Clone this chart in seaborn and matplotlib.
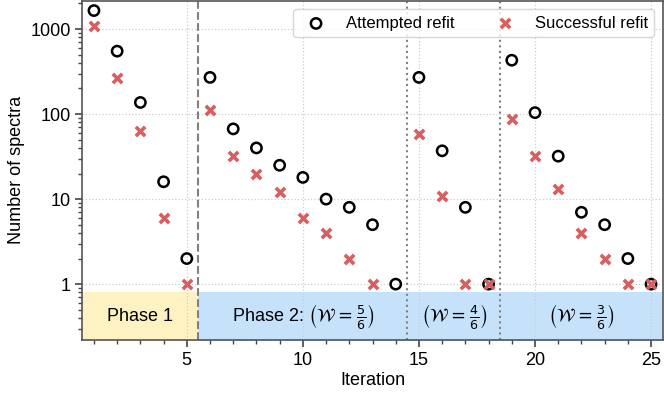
import numpy as np
import pandas as pd
import seaborn as sns
import matplotlib.pyplot as plt

# values
iterations = list(range(1, 26))
attempted = [1650, 550, 137, 16, 2, 270, 67, 40, 25, 18, 10, 8, 5, 1,
             270, 37, 8, 1, 430, 104, 32, 7, 5, 2, 1]
successful = [1100, 264, 63, 6, 1, 112, 32, 20, 12, 6, 4, 2, 1, np.nan,
              58, 11, 1, 1, 87, 32, 13, 4, 2, 1, 1]

phase_edges = [0.5, 5.5, 14.5, 18.5, 25.5]
phase_labels = ["Phase 1",
                r"Phase 2: $\left(\mathcal{W}=\frac{5}{6}\right)$",
                r"$\left(\mathcal{W}=\frac{4}{6}\right)$",
                r"$\left(\mathcal{W}=\frac{3}{6}\right)$"]
phase_colors = ["#fff2c2", "#c6e2fb", "#c6e2fb", "#c6e2fb"]

df = pd.DataFrame({"iteration": iterations,
                   "attempted": attempted,
                   "successful": successful})

sns.set_theme(style="ticks")
plt.rcParams["font.family"] = ["Liberation Sans", "DejaVu Sans"]
plt.rcParams["mathtext.fontset"] = "dejavusans"
plt.rcParams["text.color"] = "black"
plt.rcParams["axes.labelcolor"] = "black"

fig, ax = plt.subplots(figsize=(6.64, 4.01), dpi=100)

ax.set_yscale("log")
ax.set_xlim(0.5, 25.5)
ax.set_ylim(0.22, 2150)

# phase bands along the bottom
for i, lab in enumerate(phase_labels):
    x0, x1 = phase_edges[i], phase_edges[i + 1]
    ax.fill_between([x0, x1], 0.01, 0.8, color=phase_colors[i], lw=0, zorder=0)
    ax.text((x0 + x1) / 2, 0.42, lab, ha="center", va="center", fontsize=13)

ax.axvline(5.5, color="grey", ls="--", lw=1.5, zorder=1)
ax.axvline(14.5, color="grey", ls=":", lw=1.5, zorder=1)
ax.axvline(18.5, color="grey", ls=":", lw=1.5, zorder=1)

sns.scatterplot(data=df, x="iteration", y="attempted", ax=ax, marker="o",
                s=55, facecolor="none", edgecolor="black", linewidth=1.8,
                label="Attempted refit", zorder=3)
sns.scatterplot(data=df, x="iteration", y="successful", ax=ax, marker="x",
                s=45, color="#d65f5f", linewidth=2.6,
                label="Successful refit", zorder=4)

ax.set_yticks([1, 10, 100, 1000])
ax.set_yticklabels(["1", "10", "100", "1000"])
ax.set_xticks([5, 10, 15, 20, 25])
ax.set_xticks(range(1, 26), minor=True)
ax.grid(True, which="major", ls=":", color="#cccccc", lw=0.9)
ax.tick_params(which="both", color="#444444", labelcolor="black", labelsize=13)
ax.tick_params(which="major", length=5, width=1.2)
ax.tick_params(which="minor", length=3, width=1.0)
for sp in ax.spines.values():
    sp.set_color("#555555")
    sp.set_linewidth(1.2)

ax.set_xlabel("Iteration", fontsize=13, labelpad=2)
ax.set_ylabel("Number of spectra", fontsize=13)
ax.legend(loc="upper right", ncol=2, fontsize=12, frameon=True)

fig.subplots_adjust(left=0.124, right=0.998, top=0.998, bottom=0.152)
fig.savefig("out.png", dpi=100)
